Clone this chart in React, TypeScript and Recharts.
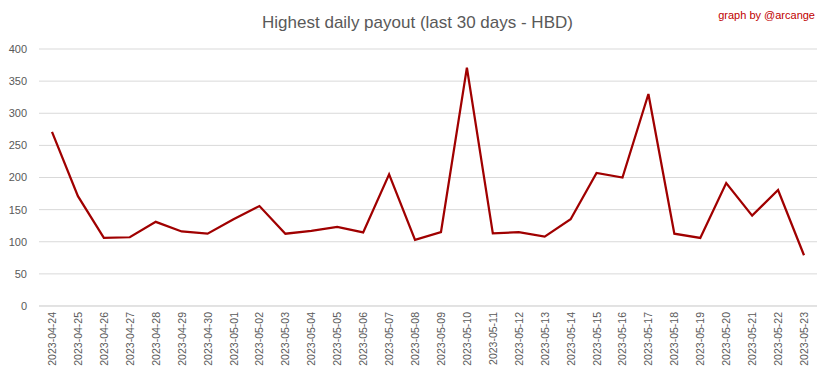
import React from "react";
import { LineChart, Line, XAxis, YAxis, CartesianGrid } from "recharts";

const dates = [
  "2023-04-24", "2023-04-25", "2023-04-26", "2023-04-27", "2023-04-28",
  "2023-04-29", "2023-04-30", "2023-05-01", "2023-05-02", "2023-05-03",
  "2023-05-04", "2023-05-05", "2023-05-06", "2023-05-07", "2023-05-08",
  "2023-05-09", "2023-05-10", "2023-05-11", "2023-05-12", "2023-05-13",
  "2023-05-14", "2023-05-15", "2023-05-16", "2023-05-17", "2023-05-18",
  "2023-05-19", "2023-05-20", "2023-05-21", "2023-05-22", "2023-05-23",
];

const payouts = [
  271, 171, 106, 107, 131, 116, 112.5, 135, 155.6, 112.5,
  117, 123, 114.6, 205, 103, 115, 371, 113, 115, 108,
  135, 207, 200, 330, 112.5, 106, 191.4, 140.6, 180.5, 79,
];

const yTicks = [0, 50, 100, 150, 200, 250, 300, 350, 400];

const data = dates.map((d, i) => ({ date: d, value: payouts[i] }));

const DateTick = (props: any) => {
  const { x, y, payload } = props;
  return (
    <text
      x={x}
      y={y}
      transform={`rotate(-90, ${x}, ${y})`}
      dx={-6}
      dy={4}
      textAnchor="end"
      fill="#595959"
      fontSize={10.5}
      fontFamily="Liberation Sans, Arial, sans-serif"
    >
      {payload.value}
    </text>
  );
};

export default function App() {
  return (
    <div style={{ margin: -8 }}>
      <div
        style={{
          position: "relative",
          width: 833,
          height: 379,
          border: "1px solid #d9d9d9",
          boxSizing: "border-box",
          background: "#fff",
          fontFamily: "Liberation Sans, Arial, sans-serif",
        }}
      >
        <div
          style={{
            position: "absolute",
            top: 12,
            left: 0,
            width: 833,
            textAlign: "center",
            fontSize: 17,
            color: "#595959",
          }}
        >
          Highest daily payout (last 30 days - HBD)
        </div>
        <div
          style={{
            position: "absolute",
            top: 8,
            right: 17,
            fontSize: 11,
            color: "#c00000",
          }}
        >
          graph by @arcange
        </div>
        <LineChart
          width={833}
          height={379}
          data={data}
          margin={{ top: 49, right: 16, bottom: 0, left: 0 }}
          style={{ position: "absolute", top: -1, left: -1 }}
        >
          <CartesianGrid vertical={false} stroke="#d9d9d9" strokeWidth={1} />
          <XAxis
            dataKey="date"
            interval={0}
            height={73}
            padding={{ left: 13, right: 13 }}
            tickLine={false}
            tickSize={0}
            tickMargin={0}
            axisLine={{ stroke: "#d9d9d9" }}
            tick={<DateTick />}
          />
          <YAxis
            width={39}
            domain={[0, 400]}
            ticks={yTicks}
            tickLine={false}
            axisLine={false}
            tickSize={0}
            tickMargin={12}
            tick={{ fill: "#595959", fontSize: 11 }}
          />
          <Line
            type="linear"
            dataKey="value"
            stroke="#a00000"
            strokeWidth={2.25}
            dot={false}
            isAnimationActive={false}
          />
        </LineChart>
      </div>
    </div>
  );
}
